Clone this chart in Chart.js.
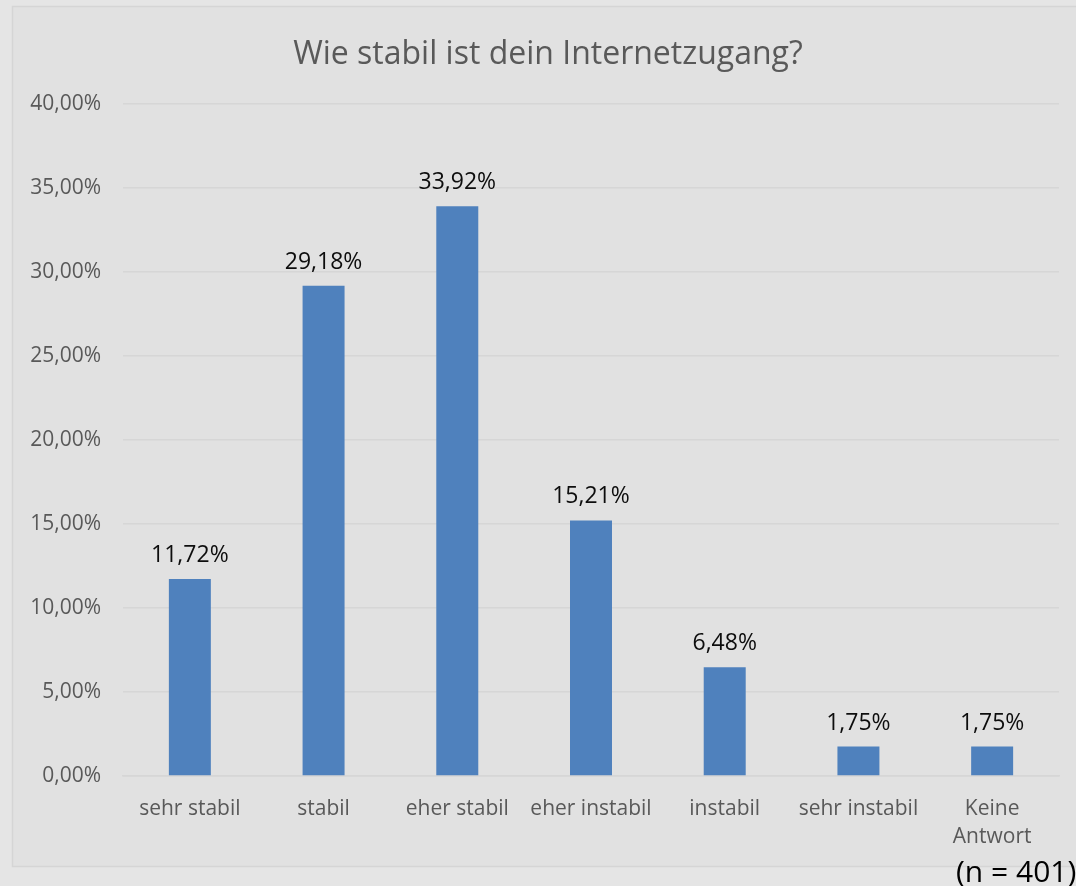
<!DOCTYPE html>
<html>
<head>
<meta charset="utf-8">
<script src="https://cdn.jsdelivr.net/npm/chart.js@4/dist/chart.umd.min.js"></script>
<style>
    html, body { margin: 0; padding: 0; background: #e5e5e5; }
    #wrap { width: 1076px; height: 886px; }
</style>
</head>
<body>
<div id="wrap"><canvas id="stabilChart" width="1076" height="886"></canvas></div>
<script>
// chart data
var categories = ['sehr stabil', 'stabil', 'eher stabil', 'eher instabil', 'instabil', 'sehr instabil', ['Keine', 'Antwort']];
var shares = [11.72, 29.18, 33.92, 15.21, 6.48, 1.75, 1.75];
var chartTitle = 'Wie stabil ist dein Internetzugang?';
var sampleNote = '(n = 401)';

var fontName = '"Open Sans", sans-serif';

// formats number as german percent
function toPercent(v) {
    return v.toFixed(2).replace('.', ',') + '%';
}

// draws frame, title, value labels and sample note
var decorPlugin = {
    id: 'decor',
    beforeDraw: function (chart) {
        var ctx = chart.ctx;
        ctx.save();
        ctx.fillStyle = '#e5e5e5';
        ctx.fillRect(0, 0, chart.width, chart.height);
        ctx.fillStyle = '#e1e1e1';
        ctx.fillRect(12, 6, chart.width, 861);
        ctx.strokeStyle = '#d5d5d5';
        ctx.lineWidth = 1.5;
        ctx.strokeRect(12.5, 6.5, chart.width, 860);
        ctx.restore();
    },
    afterDatasetsDraw: function (chart) {
        var ctx = chart.ctx;
        ctx.save();
        // title
        ctx.fillStyle = '#595959';
        ctx.font = '32px ' + fontName;
        ctx.textAlign = 'center';
        ctx.textBaseline = 'middle';
        ctx.fillText(chartTitle, 548, 55);

        // value labels
        ctx.fillStyle = '#0d0d0d';
        ctx.font = '23px ' + fontName;
        ctx.textBaseline = 'alphabetic';
        chart.getDatasetMeta(0).data.forEach(function (bar, i) {
            ctx.fillText(toPercent(shares[i]), bar.x, bar.y - 17);
        });

        // sample size
        ctx.fillStyle = '#000000';
        ctx.font = '30px ' + fontName;
        ctx.textAlign = 'left';
        ctx.fillText(sampleNote, 956, 882);
        ctx.restore();
    }
};

const ctx = document.getElementById('stabilChart');

const config = {
    type: 'bar',
    data: {
        labels: categories,
        datasets: [{
            data: shares,
            backgroundColor: '#4f81bd',
            categoryPercentage: 1,
            barPercentage: 0.314
        }]
    },
    options: {
        responsive: false,
        animation: false,
        layout: {
            padding: { left: 0, top: 104, right: 17, bottom: 0 }
        },
        plugins: {
            legend: { display: false },
            title: { display: false },
            tooltip: { enabled: false }
        },
        scales: {
            y: {
                min: 0,
                max: 40,
                ticks: {
                    stepSize: 5,
                    color: '#595959',
                    padding: 22,
                    font: { family: fontName, size: 21 },
                    callback: function (v) { return toPercent(v); }
                },
                grid: { color: '#d6d6d6', lineWidth: 1.5, drawTicks: false },
                border: { display: false },
                afterFit: function (scale) { scale.width = 123; }
            },
            x: {
                ticks: {
                    color: '#595959',
                    padding: 19,
                    maxRotation: 0,
                    font: { family: fontName, size: 21, lineHeight: 1.33 }
                },
                grid: { display: false, drawTicks: false },
                border: { display: true, color: '#d6d6d6', width: 1.5 },
                afterFit: function (scale) { scale.height = 110; }
            }
        }
    },
    plugins: [decorPlugin]
};

var stabilChart = new Chart(ctx, config);
</script>
</body>
</html>
